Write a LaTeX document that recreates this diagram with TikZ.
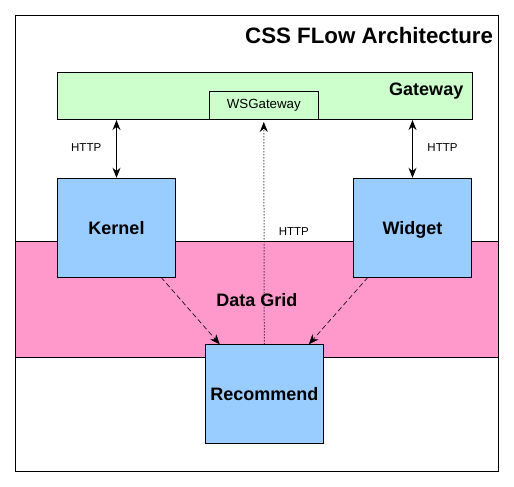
\documentclass[tikz,border=0pt]{standalone}
\usepackage{fontspec}
\setmainfont{Liberation Sans}
\usetikzlibrary{arrows.meta}
\definecolor{gwgreen}{HTML}{CCFFCC}
\definecolor{svcblue}{HTML}{99CCFF}
\definecolor{gridpink}{HTML}{FF99CC}
\tikzset{svc/.style={rectangle, draw, fill=svcblue, outer sep=0pt, minimum width=118pt, minimum height=99pt, text height=14pt, text depth=0pt, font=\fontsize{18}{20}\selectfont\bfseries}}
\tikzset{proto/.style={font=\fontsize{11.5}{13}\selectfont}}
\tikzset{biglab/.style={font=\fontsize{18}{20}\selectfont\bfseries}}

\begin{document}
\begin{tikzpicture}[x=1pt,y=-1pt,>={Stealth[length=10pt,width=8pt]}]
  \useasboundingbox (0,0) rectangle (514,487);
  \draw[fill=white] (15.3,15) rectangle (498.3,471.5);
  \node[biglab, font=\fontsize{22.3}{24}\selectfont\bfseries, anchor=east] (title) at (496.5,36) {CSS FLow Architecture};
  \node[draw, fill=gridpink, outer sep=0pt, minimum width=483pt, minimum height=116.6pt] (grid) at (256.8,299) {};
  \node[biglab] (gridlab) at (257,300) {Data Grid};
  \node[draw, fill=gwgreen, outer sep=0pt, minimum width=414.4pt, minimum height=46.7pt] (gw) at (264.5,95.7) {};
  \node[biglab, anchor=east] (gwlab) at (466.8,90.7) {Gateway};
  \node[draw, fill=gwgreen, outer sep=0pt, minimum width=109pt, minimum height=27.3pt, font=\fontsize{13.3}{15}\selectfont] (wsg) at (263.8,105.3) {WSGateway};
  \foreach \x/\y/\lab/\txt in {
    116.5/227.8/kernel/Kernel,
    412.5/227.8/widget/Widget,
    264.3/393.8/rec/Recommend%
  } {
    \node[svc] (\lab) at (\x, \y) {\txt};
  }
  \node[proto] (h1) at (86.2,147.5) {HTTP};
  \node[proto] (h2) at (442.5,147.5) {HTTP};
  \node[proto] (h3) at (293.8,231.7) {HTTP};
  \draw[<->, line width=1.1pt, shorten <=0.5pt, shorten >=1pt] (kernel.north) -- (kernel.north |- gw.south);
  \draw[<->, line width=1.1pt, shorten <=0.5pt, shorten >=1pt] (widget.north) -- (widget.north |- gw.south);
  \draw[->, line width=1pt, dash pattern=on 1pt off 2pt, shorten >=3pt] (rec.north) -- (wsg.south);
  \begin{scope}[line width=0.6pt, dash pattern=on 5pt off 3pt]
    \draw[->] (kernel.-48) -- (rec.132);
    \draw[->] (widget.-132) -- (rec.48);
  \end{scope}
\end{tikzpicture}
\end{document}
